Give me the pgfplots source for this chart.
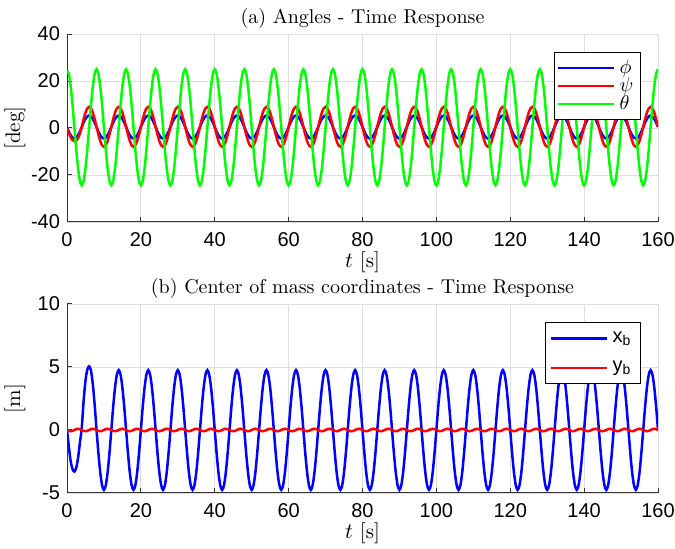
\documentclass[border=0pt]{standalone}
\usepackage{fontspec}
\usepackage{pgfplots}
\usepackage{pgfplotstable}
\pgfplotsset{compat=1.18}
\newfontfamily\arial{Liberation Sans}

\definecolor{mblue}{RGB}{0,0,255}
\definecolor{mred}{RGB}{255,0,0}
\definecolor{mgreen}{RGB}{0,255,0}

% t [s], phi, psi, theta [deg], xb, yb [m]
\pgfplotstableread{
t phi psi theta xb yb
0 0.00 0.00 24.20 0.00 0.00
0.5 -1.48 -2.10 23.12 -1.30 -0.07
1 -3.06 -4.00 17.77 -2.50 -0.10
1.5 -4.13 -5.20 9.75 -3.10 -0.07
2 -4.50 -5.60 0.30 -3.30 0.00
2.5 -4.13 -5.30 -9.15 -3.00 0.07
3 -3.06 -4.30 -17.17 -2.20 0.10
3.5 -1.48 -2.30 -22.52 -1.00 0.07
4 0.40 0.50 -24.40 0.20 0.00
4.5 2.28 3.75 -22.52 2.30 -0.07
5 3.86 6.51 -17.17 3.90 -0.10
5.5 4.93 8.35 -9.15 4.80 -0.07
6 5.30 9.00 0.30 5.05 0.00
6.5 4.93 8.35 9.75 4.70 0.07
7 3.86 6.51 17.77 3.60 0.10
7.5 2.28 3.75 23.12 1.95 0.07
8 0.40 0.50 25.00 0.00 0.00
8.5 -1.48 -2.75 23.12 -1.82 -0.07
9 -3.06 -5.51 17.77 -3.36 -0.10
9.5 -4.13 -7.35 9.75 -4.39 -0.07
10 -4.50 -8.00 0.30 -4.75 0.00
10.5 -4.13 -7.35 -9.15 -4.39 0.07
11 -3.06 -5.51 -17.17 -3.36 0.10
11.5 -1.48 -2.75 -22.52 -1.82 0.07
12 0.40 0.50 -24.40 0.00 0.00
12.5 2.28 3.75 -22.52 1.82 -0.07
13 3.86 6.51 -17.17 3.36 -0.10
13.5 4.93 8.35 -9.15 4.39 -0.07
14 5.30 9.00 0.30 4.75 0.00
14.5 4.93 8.35 9.75 4.39 0.07
15 3.86 6.51 17.77 3.36 0.10
15.5 2.28 3.75 23.12 1.82 0.07
16 0.40 0.50 25.00 0.00 0.00
16.5 -1.48 -2.75 23.12 -1.82 -0.07
17 -3.06 -5.51 17.77 -3.36 -0.10
17.5 -4.13 -7.35 9.75 -4.39 -0.07
18 -4.50 -8.00 0.30 -4.75 0.00
18.5 -4.13 -7.35 -9.15 -4.39 0.07
19 -3.06 -5.51 -17.17 -3.36 0.10
19.5 -1.48 -2.75 -22.52 -1.82 0.07
20 0.40 0.50 -24.40 0.00 0.00
20.5 2.28 3.75 -22.52 1.82 -0.07
21 3.86 6.51 -17.17 3.36 -0.10
21.5 4.93 8.35 -9.15 4.39 -0.07
22 5.30 9.00 0.30 4.75 0.00
22.5 4.93 8.35 9.75 4.39 0.07
23 3.86 6.51 17.77 3.36 0.10
23.5 2.28 3.75 23.12 1.82 0.07
24 0.40 0.50 25.00 0.00 0.00
24.5 -1.48 -2.75 23.12 -1.82 -0.07
25 -3.06 -5.51 17.77 -3.36 -0.10
25.5 -4.13 -7.35 9.75 -4.39 -0.07
26 -4.50 -8.00 0.30 -4.75 0.00
26.5 -4.13 -7.35 -9.15 -4.39 0.07
27 -3.06 -5.51 -17.17 -3.36 0.10
27.5 -1.48 -2.75 -22.52 -1.82 0.07
28 0.40 0.50 -24.40 0.00 0.00
28.5 2.28 3.75 -22.52 1.82 -0.07
29 3.86 6.51 -17.17 3.36 -0.10
29.5 4.93 8.35 -9.15 4.39 -0.07
30 5.30 9.00 0.30 4.75 0.00
30.5 4.93 8.35 9.75 4.39 0.07
31 3.86 6.51 17.77 3.36 0.10
31.5 2.28 3.75 23.12 1.82 0.07
32 0.40 0.50 25.00 0.00 0.00
32.5 -1.48 -2.75 23.12 -1.82 -0.07
33 -3.06 -5.51 17.77 -3.36 -0.10
33.5 -4.13 -7.35 9.75 -4.39 -0.07
34 -4.50 -8.00 0.30 -4.75 0.00
34.5 -4.13 -7.35 -9.15 -4.39 0.07
35 -3.06 -5.51 -17.17 -3.36 0.10
35.5 -1.48 -2.75 -22.52 -1.82 0.07
36 0.40 0.50 -24.40 0.00 0.00
36.5 2.28 3.75 -22.52 1.82 -0.07
37 3.86 6.51 -17.17 3.36 -0.10
37.5 4.93 8.35 -9.15 4.39 -0.07
38 5.30 9.00 0.30 4.75 0.00
38.5 4.93 8.35 9.75 4.39 0.07
39 3.86 6.51 17.77 3.36 0.10
39.5 2.28 3.75 23.12 1.82 0.07
40 0.40 0.50 25.00 0.00 0.00
40.5 -1.48 -2.75 23.12 -1.82 -0.07
41 -3.06 -5.51 17.77 -3.36 -0.10
41.5 -4.13 -7.35 9.75 -4.39 -0.07
42 -4.50 -8.00 0.30 -4.75 0.00
42.5 -4.13 -7.35 -9.15 -4.39 0.07
43 -3.06 -5.51 -17.17 -3.36 0.10
43.5 -1.48 -2.75 -22.52 -1.82 0.07
44 0.40 0.50 -24.40 0.00 0.00
44.5 2.28 3.75 -22.52 1.82 -0.07
45 3.86 6.51 -17.17 3.36 -0.10
45.5 4.93 8.35 -9.15 4.39 -0.07
46 5.30 9.00 0.30 4.75 0.00
46.5 4.93 8.35 9.75 4.39 0.07
47 3.86 6.51 17.77 3.36 0.10
47.5 2.28 3.75 23.12 1.82 0.07
48 0.40 0.50 25.00 0.00 0.00
48.5 -1.48 -2.75 23.12 -1.82 -0.07
49 -3.06 -5.51 17.77 -3.36 -0.10
49.5 -4.13 -7.35 9.75 -4.39 -0.07
50 -4.50 -8.00 0.30 -4.75 0.00
50.5 -4.13 -7.35 -9.15 -4.39 0.07
51 -3.06 -5.51 -17.17 -3.36 0.10
51.5 -1.48 -2.75 -22.52 -1.82 0.07
52 0.40 0.50 -24.40 0.00 0.00
52.5 2.28 3.75 -22.52 1.82 -0.07
53 3.86 6.51 -17.17 3.36 -0.10
53.5 4.93 8.35 -9.15 4.39 -0.07
54 5.30 9.00 0.30 4.75 0.00
54.5 4.93 8.35 9.75 4.39 0.07
55 3.86 6.51 17.77 3.36 0.10
55.5 2.28 3.75 23.12 1.82 0.07
56 0.40 0.50 25.00 0.00 0.00
56.5 -1.48 -2.75 23.12 -1.82 -0.07
57 -3.06 -5.51 17.77 -3.36 -0.10
57.5 -4.13 -7.35 9.75 -4.39 -0.07
58 -4.50 -8.00 0.30 -4.75 0.00
58.5 -4.13 -7.35 -9.15 -4.39 0.07
59 -3.06 -5.51 -17.17 -3.36 0.10
59.5 -1.48 -2.75 -22.52 -1.82 0.07
60 0.40 0.50 -24.40 0.00 0.00
60.5 2.28 3.75 -22.52 1.82 -0.07
61 3.86 6.51 -17.17 3.36 -0.10
61.5 4.93 8.35 -9.15 4.39 -0.07
62 5.30 9.00 0.30 4.75 0.00
62.5 4.93 8.35 9.75 4.39 0.07
63 3.86 6.51 17.77 3.36 0.10
63.5 2.28 3.75 23.12 1.82 0.07
64 0.40 0.50 25.00 0.00 0.00
64.5 -1.48 -2.75 23.12 -1.82 -0.07
65 -3.06 -5.51 17.77 -3.36 -0.10
65.5 -4.13 -7.35 9.75 -4.39 -0.07
66 -4.50 -8.00 0.30 -4.75 0.00
66.5 -4.13 -7.35 -9.15 -4.39 0.07
67 -3.06 -5.51 -17.17 -3.36 0.10
67.5 -1.48 -2.75 -22.52 -1.82 0.07
68 0.40 0.50 -24.40 0.00 0.00
68.5 2.28 3.75 -22.52 1.82 -0.07
69 3.86 6.51 -17.17 3.36 -0.10
69.5 4.93 8.35 -9.15 4.39 -0.07
70 5.30 9.00 0.30 4.75 0.00
70.5 4.93 8.35 9.75 4.39 0.07
71 3.86 6.51 17.77 3.36 0.10
71.5 2.28 3.75 23.12 1.82 0.07
72 0.40 0.50 25.00 0.00 0.00
72.5 -1.48 -2.75 23.12 -1.82 -0.07
73 -3.06 -5.51 17.77 -3.36 -0.10
73.5 -4.13 -7.35 9.75 -4.39 -0.07
74 -4.50 -8.00 0.30 -4.75 0.00
74.5 -4.13 -7.35 -9.15 -4.39 0.07
75 -3.06 -5.51 -17.17 -3.36 0.10
75.5 -1.48 -2.75 -22.52 -1.82 0.07
76 0.40 0.50 -24.40 0.00 0.00
76.5 2.28 3.75 -22.52 1.82 -0.07
77 3.86 6.51 -17.17 3.36 -0.10
77.5 4.93 8.35 -9.15 4.39 -0.07
78 5.30 9.00 0.30 4.75 0.00
78.5 4.93 8.35 9.75 4.39 0.07
79 3.86 6.51 17.77 3.36 0.10
79.5 2.28 3.75 23.12 1.82 0.07
80 0.40 0.50 25.00 0.00 0.00
80.5 -1.48 -2.75 23.12 -1.82 -0.07
81 -3.06 -5.51 17.77 -3.36 -0.10
81.5 -4.13 -7.35 9.75 -4.39 -0.07
82 -4.50 -8.00 0.30 -4.75 0.00
82.5 -4.13 -7.35 -9.15 -4.39 0.07
83 -3.06 -5.51 -17.17 -3.36 0.10
83.5 -1.48 -2.75 -22.52 -1.82 0.07
84 0.40 0.50 -24.40 0.00 0.00
84.5 2.28 3.75 -22.52 1.82 -0.07
85 3.86 6.51 -17.17 3.36 -0.10
85.5 4.93 8.35 -9.15 4.39 -0.07
86 5.30 9.00 0.30 4.75 0.00
86.5 4.93 8.35 9.75 4.39 0.07
87 3.86 6.51 17.77 3.36 0.10
87.5 2.28 3.75 23.12 1.82 0.07
88 0.40 0.50 25.00 0.00 0.00
88.5 -1.48 -2.75 23.12 -1.82 -0.07
89 -3.06 -5.51 17.77 -3.36 -0.10
89.5 -4.13 -7.35 9.75 -4.39 -0.07
90 -4.50 -8.00 0.30 -4.75 0.00
90.5 -4.13 -7.35 -9.15 -4.39 0.07
91 -3.06 -5.51 -17.17 -3.36 0.10
91.5 -1.48 -2.75 -22.52 -1.82 0.07
92 0.40 0.50 -24.40 0.00 0.00
92.5 2.28 3.75 -22.52 1.82 -0.07
93 3.86 6.51 -17.17 3.36 -0.10
93.5 4.93 8.35 -9.15 4.39 -0.07
94 5.30 9.00 0.30 4.75 0.00
94.5 4.93 8.35 9.75 4.39 0.07
95 3.86 6.51 17.77 3.36 0.10
95.5 2.28 3.75 23.12 1.82 0.07
96 0.40 0.50 25.00 0.00 0.00
96.5 -1.48 -2.75 23.12 -1.82 -0.07
97 -3.06 -5.51 17.77 -3.36 -0.10
97.5 -4.13 -7.35 9.75 -4.39 -0.07
98 -4.50 -8.00 0.30 -4.75 0.00
98.5 -4.13 -7.35 -9.15 -4.39 0.07
99 -3.06 -5.51 -17.17 -3.36 0.10
99.5 -1.48 -2.75 -22.52 -1.82 0.07
100 0.40 0.50 -24.40 0.00 0.00
100.5 2.28 3.75 -22.52 1.82 -0.07
101 3.86 6.51 -17.17 3.36 -0.10
101.5 4.93 8.35 -9.15 4.39 -0.07
102 5.30 9.00 0.30 4.75 0.00
102.5 4.93 8.35 9.75 4.39 0.07
103 3.86 6.51 17.77 3.36 0.10
103.5 2.28 3.75 23.12 1.82 0.07
104 0.40 0.50 25.00 0.00 0.00
104.5 -1.48 -2.75 23.12 -1.82 -0.07
105 -3.06 -5.51 17.77 -3.36 -0.10
105.5 -4.13 -7.35 9.75 -4.39 -0.07
106 -4.50 -8.00 0.30 -4.75 0.00
106.5 -4.13 -7.35 -9.15 -4.39 0.07
107 -3.06 -5.51 -17.17 -3.36 0.10
107.5 -1.48 -2.75 -22.52 -1.82 0.07
108 0.40 0.50 -24.40 0.00 0.00
108.5 2.28 3.75 -22.52 1.82 -0.07
109 3.86 6.51 -17.17 3.36 -0.10
109.5 4.93 8.35 -9.15 4.39 -0.07
110 5.30 9.00 0.30 4.75 0.00
110.5 4.93 8.35 9.75 4.39 0.07
111 3.86 6.51 17.77 3.36 0.10
111.5 2.28 3.75 23.12 1.82 0.07
112 0.40 0.50 25.00 0.00 0.00
112.5 -1.48 -2.75 23.12 -1.82 -0.07
113 -3.06 -5.51 17.77 -3.36 -0.10
113.5 -4.13 -7.35 9.75 -4.39 -0.07
114 -4.50 -8.00 0.30 -4.75 0.00
114.5 -4.13 -7.35 -9.15 -4.39 0.07
115 -3.06 -5.51 -17.17 -3.36 0.10
115.5 -1.48 -2.75 -22.52 -1.82 0.07
116 0.40 0.50 -24.40 0.00 0.00
116.5 2.28 3.75 -22.52 1.82 -0.07
117 3.86 6.51 -17.17 3.36 -0.10
117.5 4.93 8.35 -9.15 4.39 -0.07
118 5.30 9.00 0.30 4.75 0.00
118.5 4.93 8.35 9.75 4.39 0.07
119 3.86 6.51 17.77 3.36 0.10
119.5 2.28 3.75 23.12 1.82 0.07
120 0.40 0.50 25.00 0.00 0.00
120.5 -1.48 -2.75 23.12 -1.82 -0.07
121 -3.06 -5.51 17.77 -3.36 -0.10
121.5 -4.13 -7.35 9.75 -4.39 -0.07
122 -4.50 -8.00 0.30 -4.75 0.00
122.5 -4.13 -7.35 -9.15 -4.39 0.07
123 -3.06 -5.51 -17.17 -3.36 0.10
123.5 -1.48 -2.75 -22.52 -1.82 0.07
124 0.40 0.50 -24.40 0.00 0.00
124.5 2.28 3.75 -22.52 1.82 -0.07
125 3.86 6.51 -17.17 3.36 -0.10
125.5 4.93 8.35 -9.15 4.39 -0.07
126 5.30 9.00 0.30 4.75 0.00
126.5 4.93 8.35 9.75 4.39 0.07
127 3.86 6.51 17.77 3.36 0.10
127.5 2.28 3.75 23.12 1.82 0.07
128 0.40 0.50 25.00 0.00 0.00
128.5 -1.48 -2.75 23.12 -1.82 -0.07
129 -3.06 -5.51 17.77 -3.36 -0.10
129.5 -4.13 -7.35 9.75 -4.39 -0.07
130 -4.50 -8.00 0.30 -4.75 0.00
130.5 -4.13 -7.35 -9.15 -4.39 0.07
131 -3.06 -5.51 -17.17 -3.36 0.10
131.5 -1.48 -2.75 -22.52 -1.82 0.07
132 0.40 0.50 -24.40 0.00 0.00
132.5 2.28 3.75 -22.52 1.82 -0.07
133 3.86 6.51 -17.17 3.36 -0.10
133.5 4.93 8.35 -9.15 4.39 -0.07
134 5.30 9.00 0.30 4.75 0.00
134.5 4.93 8.35 9.75 4.39 0.07
135 3.86 6.51 17.77 3.36 0.10
135.5 2.28 3.75 23.12 1.82 0.07
136 0.40 0.50 25.00 0.00 0.00
136.5 -1.48 -2.75 23.12 -1.82 -0.07
137 -3.06 -5.51 17.77 -3.36 -0.10
137.5 -4.13 -7.35 9.75 -4.39 -0.07
138 -4.50 -8.00 0.30 -4.75 0.00
138.5 -4.13 -7.35 -9.15 -4.39 0.07
139 -3.06 -5.51 -17.17 -3.36 0.10
139.5 -1.48 -2.75 -22.52 -1.82 0.07
140 0.40 0.50 -24.40 0.00 0.00
140.5 2.28 3.75 -22.52 1.82 -0.07
141 3.86 6.51 -17.17 3.36 -0.10
141.5 4.93 8.35 -9.15 4.39 -0.07
142 5.30 9.00 0.30 4.75 0.00
142.5 4.93 8.35 9.75 4.39 0.07
143 3.86 6.51 17.77 3.36 0.10
143.5 2.28 3.75 23.12 1.82 0.07
144 0.40 0.50 25.00 0.00 0.00
144.5 -1.48 -2.75 23.12 -1.82 -0.07
145 -3.06 -5.51 17.77 -3.36 -0.10
145.5 -4.13 -7.35 9.75 -4.39 -0.07
146 -4.50 -8.00 0.30 -4.75 0.00
146.5 -4.13 -7.35 -9.15 -4.39 0.07
147 -3.06 -5.51 -17.17 -3.36 0.10
147.5 -1.48 -2.75 -22.52 -1.82 0.07
148 0.40 0.50 -24.40 0.00 0.00
148.5 2.28 3.75 -22.52 1.82 -0.07
149 3.86 6.51 -17.17 3.36 -0.10
149.5 4.93 8.35 -9.15 4.39 -0.07
150 5.30 9.00 0.30 4.75 0.00
150.5 4.93 8.35 9.75 4.39 0.07
151 3.86 6.51 17.77 3.36 0.10
151.5 2.28 3.75 23.12 1.82 0.07
152 0.40 0.50 25.00 0.00 0.00
152.5 -1.48 -2.75 23.12 -1.82 -0.07
153 -3.06 -5.51 17.77 -3.36 -0.10
153.5 -4.13 -7.35 9.75 -4.39 -0.07
154 -4.50 -8.00 0.30 -4.75 0.00
154.5 -4.13 -7.35 -9.15 -4.39 0.07
155 -3.06 -5.51 -17.17 -3.36 0.10
155.5 -1.48 -2.75 -22.52 -1.82 0.07
156 0.40 0.50 -24.40 0.00 0.00
156.5 2.28 3.75 -22.52 1.82 -0.07
157 3.86 6.51 -17.17 3.36 -0.10
157.5 4.93 8.35 -9.15 4.39 -0.07
158 5.30 9.00 0.30 4.75 0.00
158.5 4.93 8.35 9.75 4.39 0.07
159 3.86 6.51 17.77 3.36 0.10
159.5 2.28 3.75 23.12 1.82 0.07
160 0.40 0.50 25.00 0.00 0.00
}\data

\pgfplotsset{
  matlab/.style={
    scale only axis,
    width=295.5pt,
    xmin=0, xmax=160,
    xtick={0,20,...,160},
    axis x line*=bottom,
    axis y line*=left,
    grid=major,
    grid style={black!13, line width=0.4pt},
    axis line style={black!80, line width=0.5pt},
    tick style={black!80, line width=0.5pt},
    tick align=inside,
    major tick length=2.5pt,
    ticklabel style={font=\arial\fontsize{10}{12}\selectfont},
    xticklabel style={inner sep=0pt, yshift=-5pt},
    /pgf/number format/assume math mode=true,
    label style={font=\fontsize{10.5}{12}\selectfont},
    every axis title shift=0pt,
    title style={font=\fontsize{10}{12}\selectfont, at={(axis description cs:0.5,1)}, anchor=south, inner sep=0pt, yshift=2.75pt},
    xlabel={$t$ [s]},
    xlabel style={at={(axis description cs:0.5,-0.215)}, anchor=center, inner sep=0pt},
    ylabel style={at={(axis description cs:-0.088,0.5)}, anchor=center},
    legend style={at={(axis description cs:1,1)}, anchor=north east, xshift=-8.5pt, yshift=-9pt,
      draw=black, line width=0.6pt, fill=white, inner sep=1.5pt, row sep=-3.5pt,
      font=\fontsize{10}{12}\selectfont},
    legend cell align=left,
    legend image code/.code={\draw[#1, line width=1.25pt] (0pt,0pt) -- (28pt,0pt);},
    every axis plot/.append style={line width=1.25pt, smooth, no markers},
  }
}

\begin{document}
\begin{tikzpicture}
\useasboundingbox (0,0) rectangle (337.5pt,-274.5pt);

\begin{axis}[matlab,
  at={(33.5pt,-111pt)}, anchor=south west,
  height=94pt,
  ymin=-40, ymax=40, ytick={-40,-20,...,40},
  title={(a) Angles - Time Response},
  ylabel={[deg]},
]
\addplot[mblue] table[x=t, y=phi] {\data};
\addplot[mred] table[x=t, y=psi] {\data};
\addplot[mgreen] table[x=t, y=theta] {\data};
\legend{$\phi$, $\psi$, $\theta$}
\end{axis}

\begin{axis}[matlab,
  at={(33.5pt,-246.5pt)}, anchor=south west,
  height=94.5pt,
  ymin=-5, ymax=10, ytick={-5,0,5,10},
  title={(b) Center of mass coordinates - Time Response},
  ylabel={[m]},
  legend style={row sep=4pt, inner sep=2.5pt, font=\arial\fontsize{10}{12}\selectfont},
]
\addplot[mblue] table[x=t, y=xb] {\data};
\addplot[mred] table[x=t, y=yb] {\data};
\legend{x\textsubscript{b}, y\textsubscript{b}}
\end{axis}
\end{tikzpicture}
\end{document}
